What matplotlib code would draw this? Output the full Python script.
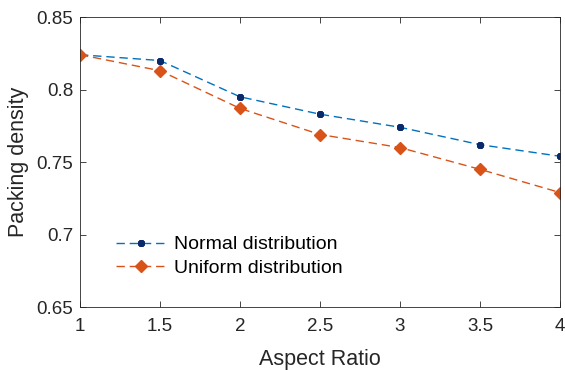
import numpy as np
import matplotlib.pyplot as plt

plt.rcParams['font.family'] = ['Liberation Sans', 'DejaVu Sans']

aspect_ratio = [1, 1.5, 2, 2.5, 3, 3.5, 4]
normal_density = [0.824, 0.820, 0.795, 0.783, 0.774, 0.762, 0.754]
uniform_density = [0.824, 0.813, 0.787, 0.769, 0.760, 0.745, 0.729]
x_ticks = [1, 1.5, 2, 2.5, 3, 3.5, 4]
x_labels = ['1', '1.5', '2', '2.5', '3', '3.5', '4']
y_ticks = [0.65, 0.7, 0.75, 0.8, 0.85]
y_labels = ['0.65', '0.7', '0.75', '0.8', '0.85']

blue = (0, 0.447, 0.741)
orange = (0.85, 0.325, 0.098)
navy = '#0b2a6b'
axis_gray = (0.15, 0.15, 0.15)

fig = plt.figure(figsize=(5.65, 3.7), dpi=100)
ax = fig.add_axes([0.1416, 0.170, 0.8494, 0.784])

# asterisk-like marker drawn thick so it reads as a small blob, like the original
ax.plot(aspect_ratio, normal_density, '--', color=blue, lw=1.0,
        marker=(8, 2, 0), ms=5, mew=2.0, mfc=navy, mec=navy, dashes=(6, 3.5),
        label='Normal distribution')
ax.plot(aspect_ratio, uniform_density, '--', color=orange, lw=1.0,
        marker='D', ms=6.5, mfc=orange, mec=orange, dashes=(6, 3.5),
        label='Uniform distribution')

ax.set_xlim(1, 4)
ax.set_ylim(0.65, 0.85)
ax.set_xticks(x_ticks)
ax.set_xticklabels(x_labels)
ax.set_yticks(y_ticks)
ax.set_yticklabels(y_labels)
ax.tick_params(direction='in', top=True, right=True, length=4, width=0.6,
               colors=axis_gray, labelsize=13.5, pad=5)
ax.tick_params(axis='x', pad=8)
for s in ax.spines.values():
    s.set_color(axis_gray)
    s.set_linewidth(0.6)

ax.set_xlabel('Aspect Ratio', fontsize=15.5, color=axis_gray, labelpad=10)
ax.set_ylabel('Packing density', fontsize=15.5, color=axis_gray, labelpad=5)

ax.legend(loc='upper left', bbox_to_anchor=(0.075, 0.246), frameon=False,
          fontsize=14, handlelength=2.6, handletextpad=0.4, labelspacing=0.3,
          borderpad=0, borderaxespad=0)

fig.savefig('out.png', dpi=100)
